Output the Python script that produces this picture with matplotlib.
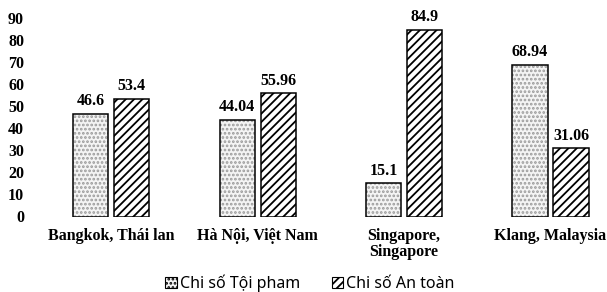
import numpy as np
import matplotlib
matplotlib.use("Agg")
import matplotlib.pyplot as plt
from matplotlib.patches import Patch

# data
cities = ["Bangkok, Thái lan", "Hà Nội, Việt Nam", "Singapore,\nSingapore", "Klang, Malaysia"]
crime_idx = [46.6, 44.04, 15.1, 68.94]
safety_idx = [53.4, 55.96, 84.9, 31.06]
series_names = ["Chi số Tội pham", "Chi số An toàn"]
y_ticks = [0, 10, 20, 30, 40, 50, 60, 70, 80, 90]

plt.rcParams['hatch.linewidth'] = 1.3
serif = "Liberation Serif"

fig = plt.figure(figsize=(6.07, 2.92), dpi=100)
fig.patch.set_facecolor('white')
# axes box in pixel terms: left 38, right 607, y 0 at 216.5, 90 at 18.3
ax = fig.add_axes([38/607, (292-216.5)/292, (607-38)/607, (216.5-18.3)/292])

x = np.arange(len(cities))
w = 0.24
off = 0.14

# dotted series: pale fill with grey dots, then black outline on top
ax.bar(x - off, crime_idx, w, color='#f4f4f4', edgecolor='#9a9a9a', hatch='....', lw=0)
ax.bar(x - off, crime_idx, w, fill=False, edgecolor='black', lw=1.1)
# striped series
ax.bar(x + off, safety_idx, w, color='white', edgecolor='black', hatch='////', lw=1.1)

for xi, v in zip(x, crime_idx):
    ax.text(xi - off, v + 2.0, f"{v:g}", ha='center', va='bottom',
            fontsize=11.5, fontweight='bold', family=serif)
for xi, v in zip(x, safety_idx):
    ax.text(xi + off, v + 2.0, f"{v:g}", ha='center', va='bottom',
            fontsize=11.5, fontweight='bold', family=serif)

ax.set_xlim(-0.5, 3 + (607 - 550.5) / 146.3)
ax.set_ylim(0, 90)
ax.set_yticks(y_ticks)
ax.set_yticklabels([str(t) for t in y_ticks], fontsize=11.5, fontweight='bold', family=serif)
ax.set_xticks(x)
ax.set_xticklabels(cities, fontsize=11.5, fontweight='bold', family=serif, linespacing=1.05)
ax.tick_params(axis='y', length=0, pad=10)
ax.tick_params(axis='x', length=0, pad=8)
for s in ax.spines.values():
    s.set_visible(False)

handles = [
    Patch(facecolor='#f4f4f4', edgecolor='black', hatch='....', lw=0.8),
    Patch(facecolor='white', edgecolor='black', hatch='////', lw=0.8),
]
fig.legend(handles, series_names, loc='center', bbox_to_anchor=(310/607, (292-283)/292),
           ncol=2, frameon=False, handlelength=0.7, handleheight=0.7,
           handletextpad=0.2, columnspacing=2.0, prop={'family': 'Noto Sans', 'size': 11.5})

fig.savefig("out.png", dpi=100, facecolor='white')
